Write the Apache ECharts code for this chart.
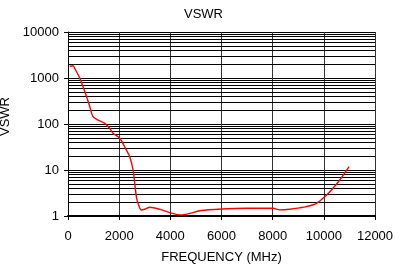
<!DOCTYPE html>
<html>
<head>
<meta charset="utf-8">
<script src="https://cdn.jsdelivr.net/npm/echarts@6/dist/echarts.min.js"></script>
<style>
html, body { margin: 0; padding: 0; background: #fff; }
#main { width: 407px; height: 266px; }
</style>
</head>
<body>
<div id="main"></div>
<script>
// values
var freq = [66, 195, 262, 457, 653, 848, 977, 1173, 1435, 1630, 1760, 2021, 2283, 2413, 2543, 2673, 2738, 2869, 3000, 3195, 3586, 3977, 4434, 4759, 5150, 6010, 6975, 8015, 8276, 8668, 9055, 9320, 9711, 10037, 10298, 10623, 10987];
var vswr = [1800, 1850, 1620, 1000, 513, 243, 144, 122, 103, 81, 63, 49, 27, 19.5, 10, 2.6, 1.89, 1.35, 1.4, 1.55, 1.4, 1.18, 1.05, 1.14, 1.3, 1.42, 1.47, 1.47, 1.36, 1.4, 1.5, 1.6, 1.89, 2.63, 3.68, 6.06, 11.8];
var xTicks = [0, 2000, 4000, 6000, 8000, 10000, 12000];
var decades = [1, 10, 100, 1000];
var steps = [2, 3, 4, 5, 6, 7, 8, 9];

var font = 'Liberation Sans, Arial, sans-serif';

// minor grid lines of the log axis
var minorLines = [];
decades.forEach(function (d) {
  steps.forEach(function (s) {
    minorLines.push({ yAxis: d * s });
  });
});

var points = freq.map(function (f, i) { return [f, vswr[i]]; });

var myChart = echarts.init(document.getElementById('main'));
var option = {
  animation: false,
  title: {
    text: 'VSWR',
    left: 'center',
    top: 3,
    textStyle: { fontSize: 13, fontWeight: 'normal', color: '#000', fontFamily: font }
  },
  grid: { left: 68, right: 32, top: 32, bottom: 50, containLabel: false, outerBoundsMode: 'none' },
  xAxis: {
    type: 'value',
    min: xTicks[0],
    max: xTicks[xTicks.length - 1],
    interval: 2000,
    name: 'FREQUENCY (MHz)',
    nameLocation: 'middle',
    nameGap: 35,
    nameTextStyle: { fontSize: 13, color: '#000', fontFamily: font },
    axisLine: { show: true, lineStyle: { color: '#000', width: 2 } },
    axisTick: { show: true, length: 4, lineStyle: { color: '#000' } },
    axisLabel: { fontSize: 13, color: '#000', fontFamily: font, margin: 14, formatter: function (v) { return String(v); } },
    splitLine: { show: true, lineStyle: { color: '#333', width: 1 } }
  },
  yAxis: {
    type: 'log',
    logBase: 10,
    min: 1,
    max: 10000,
    name: 'VSWR',
    nameLocation: 'middle',
    nameGap: 41,
    nameTextStyle: { fontSize: 13, color: '#000', fontFamily: font, padding: [0, 0, 0, 15] },
    axisLine: { show: true, lineStyle: { color: '#000', width: 1 } },
    axisTick: { show: true, length: 4, lineStyle: { color: '#000' } },
    axisLabel: { fontSize: 13, color: '#000', fontFamily: font, margin: 9, formatter: function (v) { return String(v); } },
    splitLine: { show: true, lineStyle: { color: '#000', width: 1 } }
  },
  series: [
    {
      type: 'line',
      data: [],
      z: 1,
      silent: true,
      markLine: {
        silent: true,
        symbol: 'none',
        label: { show: false },
        lineStyle: { color: '#000', width: 1, type: 'solid' },
        data: minorLines
      }
    },
    {
      type: 'line',
      data: points,
      z: 5,
      smooth: 0.3,
      showSymbol: false,
      lineStyle: { color: '#ff0000', width: 1.4 }
    }
  ]
};
myChart.setOption(option);
</script>
</body>
</html>
